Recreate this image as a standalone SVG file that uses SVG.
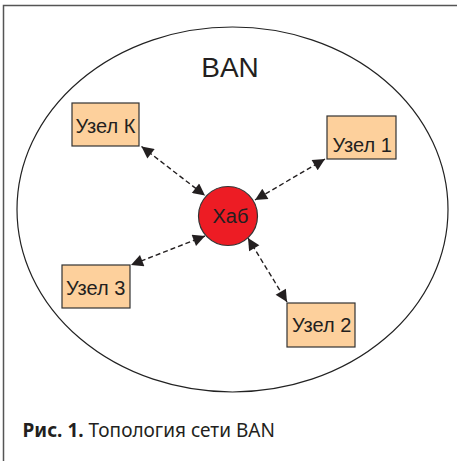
<svg xmlns="http://www.w3.org/2000/svg" width="457" height="461" viewBox="0 0 457 461">
  <style>
    .frame { fill: none; stroke: #555; stroke-width: 1.5; }
    .area { fill: none; stroke: #222; stroke-width: 1.2; }
    .node rect { fill: #fdd09c; stroke: #333; stroke-width: 1.2; }
    .label { font-family: "Liberation Sans", Arial, sans-serif; font-size: 20px; fill: #231f20; }
    .title { font-family: "Liberation Sans", Arial, sans-serif; font-size: 28px; fill: #231f20; text-anchor: middle; }
    .hub circle { fill: #ed1c24; stroke: #333; stroke-width: 1.2; }
    .link { stroke: #231f20; stroke-width: 1.4; stroke-dasharray: 5 3; fill: none; marker-start: url(#head); marker-end: url(#head); }
    .caption { font-family: "Noto Sans", "Open Sans", sans-serif; font-size: 19px; fill: #231f20; }
  </style>
  <defs>
    <marker id="head" viewBox="0 0 10 10" refX="10" refY="5" markerWidth="14" markerHeight="12" markerUnits="userSpaceOnUse" orient="auto-start-reverse">
      <path d="M0,0 L10,5 L0,10 z" fill="#231f20"/>
    </marker>
  </defs>
  <rect width="457" height="461" fill="#fff"/>

  <!-- page frame: top and left rules -->
  <path class="frame" d="M3.5,461 V5.5 H457"/>

  <!-- network boundary -->
  <ellipse class="area" cx="232.5" cy="209.5" rx="215.5" ry="182.5"/>
  <text class="title" x="230" y="77">BAN</text>

  <!-- links between hub and nodes -->
  <g id="links">
    <line class="link" x1="141.5" y1="146.5" x2="205" y2="195.5"/>
    <line class="link" x1="325" y1="159" x2="255" y2="200"/>
    <line class="link" x1="205" y1="236" x2="131" y2="265"/>
    <line class="link" x1="248" y1="238" x2="287" y2="302"/>
  </g>

  <g id="hub" class="hub">
    <circle cx="228" cy="216" r="29.5"/>
    <text class="label" x="212.5" y="223">Хаб</text>
  </g>

  <g id="node-k" class="node">
    <rect x="72" y="103" width="67" height="43"/>
    <text class="label" x="75.5" y="132.5">Узел К</text>
  </g>

  <g id="node-1" class="node">
    <rect x="327" y="116" width="69" height="43"/>
    <text class="label" x="332.5" y="151.5">Узел 1</text>
  </g>

  <g id="node-3" class="node">
    <rect x="62" y="265" width="68" height="43"/>
    <text class="label" x="66" y="295">Узел 3</text>
  </g>

  <g id="node-2" class="node">
    <rect x="287" y="303" width="68" height="44"/>
    <text class="label" x="292" y="332">Узел 2</text>
  </g>

  <text class="caption" x="22.5" y="436.5"><tspan font-weight="bold">Рис. 1.</tspan> Топология сети BAN</text>
</svg>
